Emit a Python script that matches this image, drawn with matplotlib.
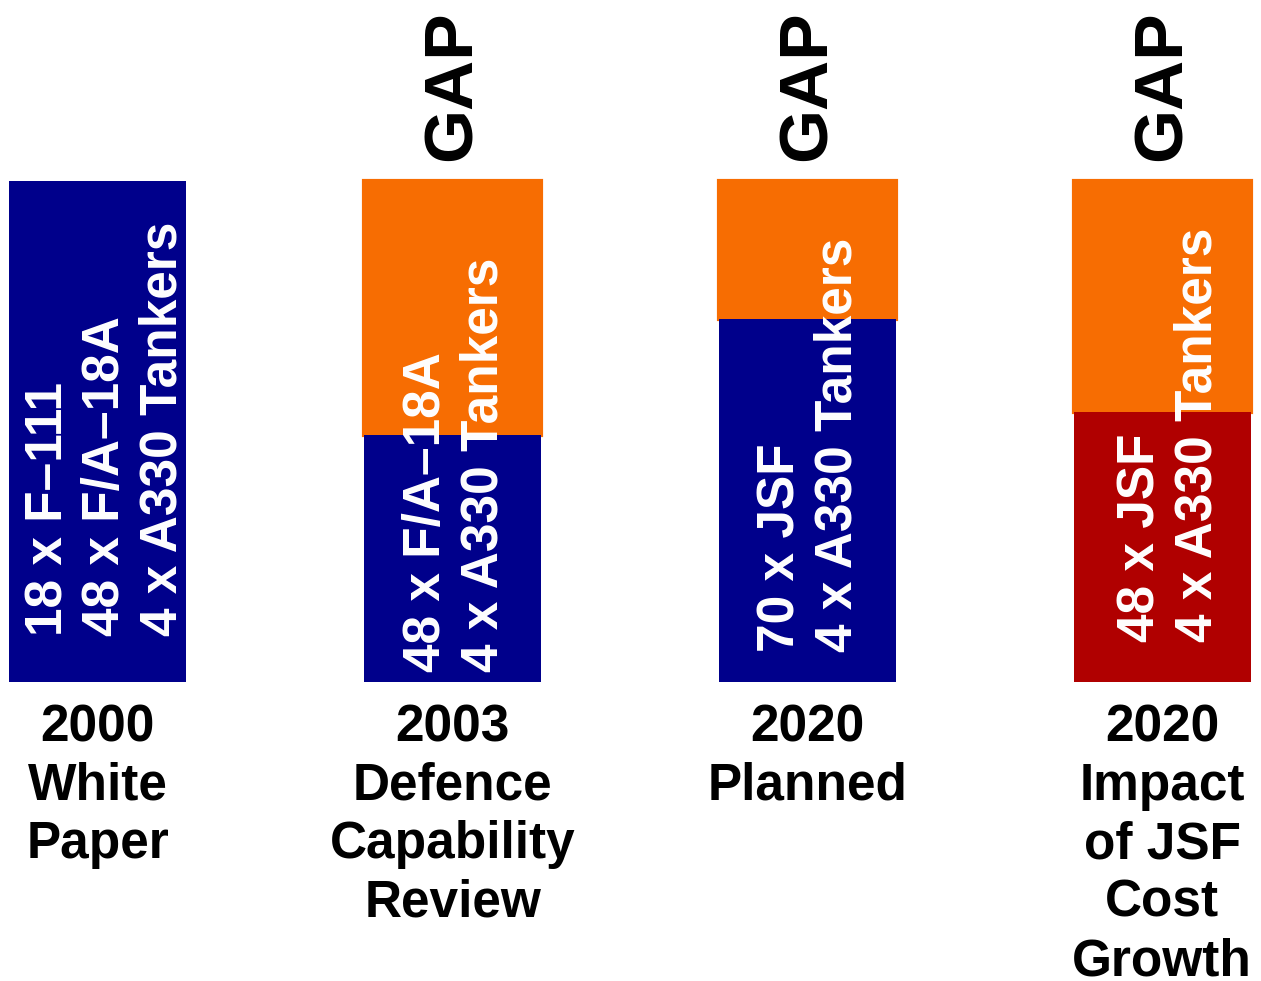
import matplotlib
matplotlib.use("Agg")
import matplotlib.pyplot as plt

plt.rcParams['font.family'] = ['Liberation Sans', 'DejaVu Sans']
plt.rcParams['font.weight'] = 'bold'

# ---- data ----
categories = ["2000\nWhite\nPaper",
              "2003\nDefence\nCapability\nReview",
              "2020\nPlanned",
              "2020\nImpact\nof JSF\nCost\nGrowth"]
required = [100, 100, 100, 100]          # capability needed (orange = gap)
achieved = [100, 49.3, 72.5, 53.9]       # capability delivered
bar_colors = ["#00008B", "#00008B", "#00008B", "#B00000"]
fleet_text = ["18 x F\u2013111\n48 x F/A\u201318A\n4 x A330 Tankers",
              "48 x F/A\u201318A\n4 x A330 Tankers",
              "70 x JSF\n4 x A330 Tankers",
              "48 x JSF\n4 x A330 Tankers"]
show_gap = [False, True, True, True]

# ---- layout ----
text_bottom = [9.2, 2.0, 6.0, 8.0]
text_dx = [0.023, 0.008, 0.006, 0.02]
gap_color = "#F76D02"

fig = plt.figure(figsize=(12.61, 9.81), dpi=100)
ax = fig.add_axes([9 / 1261, (981 - 682) / 981, 1242 / 1261, 501 / 981])
ax.set_xlim(-0.25, 3.25)
ax.set_ylim(0, 100)
ax.axis("off")

x = list(range(len(categories)))

for i in x:
    if show_gap[i]:
        gap = required[i] - achieved[i]
        ax.bar(i, gap, bottom=achieved[i], width=0.5, color=gap_color,
               edgecolor=gap_color, linewidth=3, clip_on=False, zorder=1)
        ax.text(i, 104, "GAP", rotation=90, ha="center", va="bottom",
                fontsize=50, fontweight="bold", color="black")
    ax.bar(i, achieved[i], width=0.5, color=bar_colors[i], clip_on=False, zorder=2)
    ax.text(i + text_dx[i], text_bottom[i], fleet_text[i], rotation=90,
            ha="center", va="bottom", multialignment="left", linespacing=1.22,
            fontsize=37, fontweight="bold", color="white", zorder=3)
    ax.text(i, -4.2, categories[i], ha="center", va="top", linespacing=1.25,
            fontsize=37, fontweight="bold", color="black")

fig.savefig("out.png", dpi=100)
